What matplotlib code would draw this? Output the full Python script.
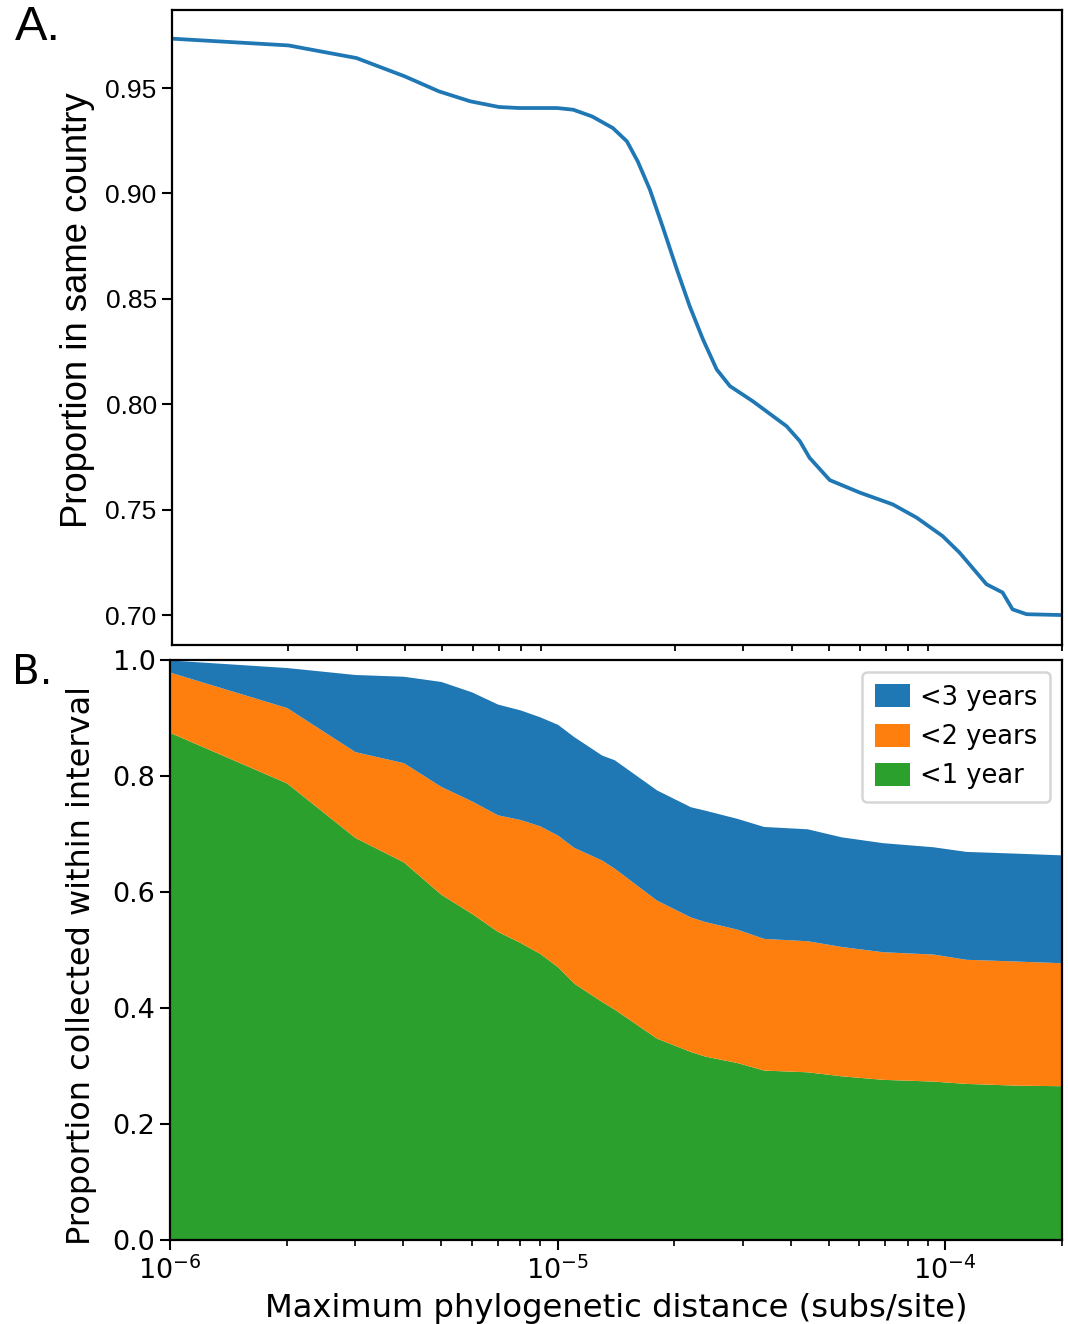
import matplotlib
matplotlib.use("Agg")
import matplotlib.pyplot as plt
from matplotlib.ticker import LogLocator, NullFormatter, FixedLocator

# ---------------- data ----------------
# Panel A: proportion in same country vs max phylogenetic distance
dist_a = [1.0e-6, 2.0e-6, 3.0e-6, 4.0e-6, 4.9e-6, 5.9e-6, 7.0e-6, 7.9e-6, 9.9e-6,
          1.09e-5, 1.22e-5, 1.38e-5, 1.50e-5, 1.60e-5, 1.72e-5, 1.86e-5, 2.02e-5,
          2.18e-5, 2.36e-5, 2.56e-5, 2.77e-5, 3.17e-5, 3.88e-5, 4.20e-5, 4.45e-5,
          5.02e-5, 6.00e-5, 7.30e-5, 8.42e-5, 9.82e-5, 1.087e-4, 1.276e-4, 1.404e-4,
          1.49e-4, 1.62e-4, 2.0e-4]
prop_country = [0.9734, 0.9702, 0.9642, 0.9555, 0.9484, 0.9437, 0.9410, 0.9405, 0.9405,
                0.9397, 0.9365, 0.9310, 0.9247, 0.9152, 0.9018, 0.8837, 0.8639,
                0.8465, 0.8307, 0.8165, 0.8086, 0.8015, 0.7896, 0.7825, 0.7746,
                0.7640, 0.7581, 0.7525, 0.7462, 0.7375, 0.7296, 0.7146, 0.7107,
                0.7027, 0.7004, 0.7000]

# Panel B: cumulative proportion collected within interval
dist_b = [1e-6, 2e-6, 3e-6, 4e-6, 5e-6, 6e-6, 7e-6, 8e-6, 9e-6, 1e-5,
          1.1e-5, 1.3e-5, 1.4e-5, 1.8e-5, 2.2e-5, 2.4e-5, 2.9e-5, 3.4e-5,
          4.4e-5, 5.4e-5, 6.9e-5, 9.3e-5, 1.13e-4, 1.52e-4, 2.0e-4]
lt3_years = [1.000, 0.987, 0.975, 0.972, 0.963, 0.945, 0.924, 0.914, 0.902, 0.889,
             0.868, 0.836, 0.828, 0.776, 0.747, 0.741, 0.727, 0.713,
             0.709, 0.695, 0.685, 0.678, 0.670, 0.667, 0.664]
lt2_years = [0.979, 0.918, 0.842, 0.823, 0.782, 0.757, 0.733, 0.725, 0.714, 0.698,
             0.677, 0.655, 0.641, 0.586, 0.557, 0.549, 0.536, 0.520,
             0.516, 0.506, 0.497, 0.493, 0.484, 0.481, 0.478]
lt1_year = [0.875, 0.788, 0.694, 0.652, 0.596, 0.563, 0.532, 0.513, 0.494, 0.471,
            0.443, 0.411, 0.398, 0.348, 0.325, 0.317, 0.306, 0.293,
            0.290, 0.283, 0.277, 0.274, 0.270, 0.267, 0.266]

legend_labels = ["<3 years", "<2 years", "<1 year"]
colors = ["#1f77b4", "#ff7f0e", "#2ca02c"]

# ---------------- figure ----------------
W, H = 1068, 1324
fig = plt.figure(figsize=(W / 100, H / 100), dpi=100)

def frac(left, top, right, bottom):
    return [left / W, 1 - bottom / H, (right - left) / W, (bottom - top) / H]

# ---- Panel A ----
fa = "Liberation Sans"
axA = fig.add_axes(frac(172, 10, 1062, 645))
axA.plot(dist_a, prop_country, color=colors[0], lw=2.7, solid_capstyle="butt")
axA.set_xscale("log")
axA.set_xlim(1e-6, 2e-4)
axA.set_ylim(0.6858, 0.987)
axA.yaxis.set_major_locator(FixedLocator([0.70, 0.75, 0.80, 0.85, 0.90, 0.95]))
axA.set_yticklabels(["0.70", "0.75", "0.80", "0.85", "0.90", "0.95"],
                    fontfamily=fa, fontsize=19)
axA.xaxis.set_minor_locator(LogLocator(base=10, subs=range(2, 10), numticks=20))
axA.xaxis.set_minor_formatter(NullFormatter())
axA.tick_params(axis="x", which="major", length=0, labelbottom=False)
axA.tick_params(axis="x", which="minor", length=4, width=1.3)
axA.tick_params(axis="y", which="major", length=7, width=1.5, pad=4)
for s in axA.spines.values():
    s.set_linewidth(1.6)
axA.set_ylabel("Proportion in same country", fontfamily=fa, fontsize=26.3)
axA.yaxis.set_label_coords(-0.0865, 0.527)
fig.text(15 / W, 1 - 28 / H, "A.", fontfamily=fa, fontsize=35, va="center", ha="left")

# ---- Panel B ----
axB = fig.add_axes(frac(170, 660, 1062, 1240))
zero = [0.0] * len(dist_b)
h_g = axB.fill_between(dist_b, zero, lt1_year, color=colors[2], lw=0, label=legend_labels[2])
h_o = axB.fill_between(dist_b, lt1_year, lt2_years, color=colors[1], lw=0, label=legend_labels[1])
h_b = axB.fill_between(dist_b, lt2_years, lt3_years, color=colors[0], lw=0, label=legend_labels[0])
axB.set_xscale("log")
axB.set_xlim(1e-6, 2e-4)
axB.set_ylim(0, 1.0)
axB.set_yticks([0.0, 0.2, 0.4, 0.6, 0.8, 1.0])
axB.tick_params(axis="both", which="major", labelsize=19.5, length=7, width=1.5)
axB.tick_params(axis="x", which="minor", length=4, width=1.2)
axB.tick_params(axis="x", which="major", pad=5)
for s in axB.spines.values():
    s.set_linewidth(1.6)
axB.set_xlabel("Maximum phylogenetic distance (subs/site)", fontsize=23.2, labelpad=6)
axB.set_ylabel("Proportion collected within interval", fontsize=23)
axB.yaxis.set_label_coords(-0.0818, 0.473)
leg = axB.legend(handles=[h_b, h_o, h_g], loc="upper right", fontsize=18.5,
                 handlelength=1.35, handleheight=1.0, handletextpad=0.4,
                 labelspacing=0.5, borderpad=0.5, borderaxespad=0.45,
                 fancybox=True, edgecolor="0.8", framealpha=0.8)
leg.get_frame().set_linewidth(1.8)
fig.text(12 / W, 1 - 673 / H, "B.", fontsize=29, va="center", ha="left")

fig.savefig("out.png", dpi=100)
